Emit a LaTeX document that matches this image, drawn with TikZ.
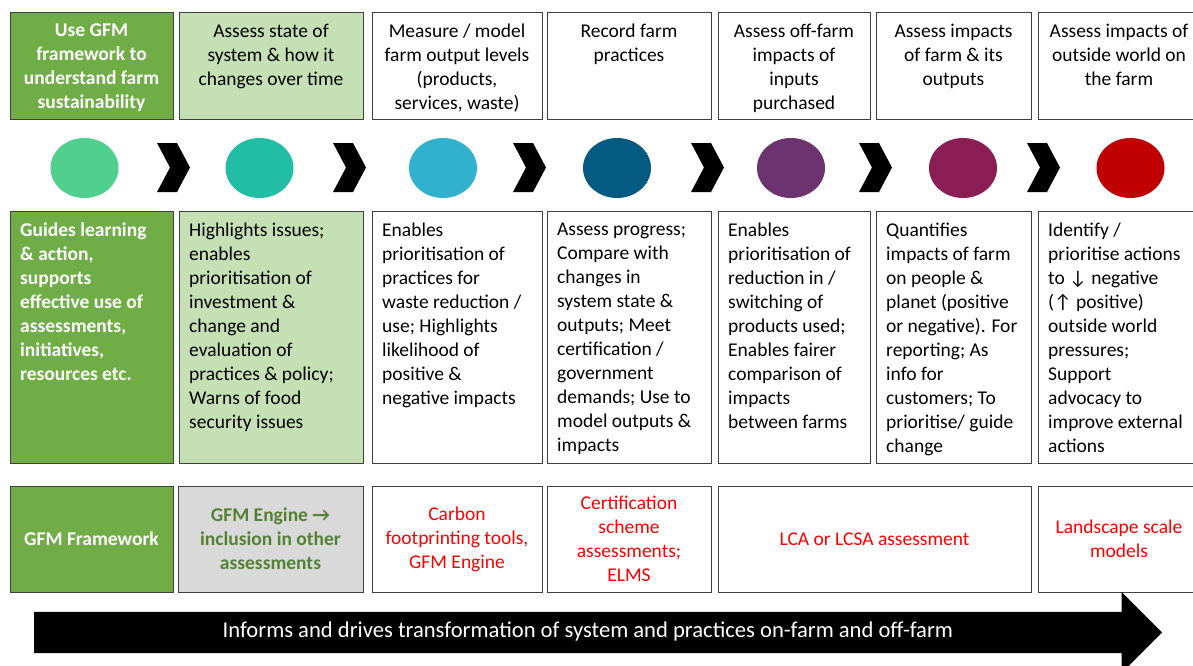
\documentclass[tikz,border=0pt]{standalone}
\usepackage{fontspec}
\setmainfont{Carlito}
\usepackage{tikz}
\usetikzlibrary{positioning}
\usetikzlibrary{shapes.geometric,shapes.arrows}
\definecolor{gfmdark}{HTML}{70AD47}
\definecolor{gfmlight}{HTML}{C5E0B4}
\definecolor{gfmgrey}{HTML}{D9D9D9}
\definecolor{gfmtext}{HTML}{548235}
\definecolor{edge}{HTML}{404040}
\definecolor{toolred}{HTML}{FF0000}
\definecolor{dotA}{HTML}{50D08D}
\definecolor{dotB}{HTML}{21BDA5}
\definecolor{dotC}{HTML}{30B2CE}
\definecolor{dotD}{HTML}{045A80}
\definecolor{dotE}{HTML}{6D3270}
\definecolor{dotF}{HTML}{8B1D55}
\definecolor{dotG}{HTML}{C00000}
\newcommand{\gfmsize}{\fontsize{19.5pt}{24pt}\selectfont}
\tikzstyle{box} = [draw=edge, line width=1pt, rectangle, inner sep=0pt]
\tikzstyle{toprow} = [box, minimum height=107pt]
\tikzstyle{midrow} = [box, minimum height=252pt]
\tikzstyle{botrow} = [box, minimum height=106pt, align=center]
\tikzstyle{head} = [anchor=north, align=center, inner sep=0pt, execute at begin node=\strut]
\tikzstyle{body} = [anchor=north west, align=left, inner sep=0pt, execute at begin node=\strut]
\tikzstyle{dot} = [ellipse, minimum width=68pt, minimum height=60pt, inner sep=0pt]
\begin{document}
\begin{tikzpicture}[x=1pt,y=-1pt,font=\gfmsize]
    \useasboundingbox (0,0) rectangle (1193,666);
    % top row: what each step does
    \node [toprow, fill=gfmdark, minimum width=163pt] (top1) at (91.5,66.5) {};
    \node [toprow, fill=gfmlight, minimum width=184pt] (top2) at (271,66.5) {};
    \node [toprow, minimum width=170pt] (top3) at (457,66.5) {};
    \node [toprow, minimum width=164pt] (top4) at (629,66.5) {};
    \node [toprow, minimum width=152pt] (top5) at (794,66.5) {};
    \node [toprow, minimum width=155pt] (top6) at (953.5,66.5) {};
    \node [toprow, minimum width=162pt] (top7) at (1119,66.5) {};
    \node [head, text=white, font=\gfmsize\bfseries] (top1txt) at ([yshift=-11pt]top1.north) {Use GFM\\framework to\\understand farm\\sustainability};
    \node [head] (top2txt) at ([yshift=-11pt]top2.north) {Assess state of\\system \& how it\\changes over time};
    \node [head] (top3txt) at ([yshift=-11pt]top3.north) {Measure / model\\farm output levels\\(products,\\services, waste)};
    \node [head] (top4txt) at ([yshift=-11pt]top4.north) {Record farm\\practices};
    \node [head] (top5txt) at ([yshift=-11pt]top5.north) {Assess off-farm\\impacts of\\inputs\\purchased};
    \node [head] (top6txt) at ([yshift=-11pt]top6.north) {Assess impacts\\of farm \& its\\outputs};
    \node [head] (top7txt) at ([yshift=-11pt]top7.north) {Assess impacts of\\outside world on\\the farm};

    % coloured dots and chevrons
    \node [dot, fill=dotA] (dot1) at (84.5,168) {};
    \node [dot, fill=dotB] (dot2) at (259.5,168) {};
    \node [dot, fill=dotC] (dot3) at (443,168) {};
    \node [dot, fill=dotD] (dot4) at (617,168) {};
    \node [dot, fill=dotE] (dot5) at (791,168) {};
    \node [dot, fill=dotF] (dot6) at (963,168) {};
    \node [dot, fill=dotG] (dot7) at (1130.5,168) {};
    \foreach \cx in {157,333,513,691,859,1027}
        \fill (\cx,143) -- ++(20,0) -- ++(13,24.5) -- ++(-13,24.5) -- ++(-20,0) -- ++(13,-24.5) -- cycle;

    % middle row: what it is used for
    \node [midrow, fill=gfmdark, minimum width=163pt] (mid1) at (91.5,337) {};
    \node [midrow, fill=gfmlight, minimum width=184pt] (mid2) at (271,337) {};
    \node [midrow, minimum width=170pt] (mid3) at (457,337) {};
    \node [midrow, minimum width=164pt] (mid4) at (629,337) {};
    \node [midrow, minimum width=152pt] (mid5) at (794,337) {};
    \node [midrow, minimum width=155pt] (mid6) at (953.5,337) {};
    \node [midrow, minimum width=162pt] (mid7) at (1119,337) {};
    \node [body, text=white, font=\gfmsize\bfseries] (mid1txt) at ([xshift=10.5pt,yshift=-12pt]mid1.north west) {Guides learning\\\& action,\\supports\\effective use of\\assessments,\\initiatives,\\resources etc.};
    \node [body] (mid2txt) at ([xshift=10.5pt,yshift=-12pt]mid2.north west) {Highlights issues;\\enables\\prioritisation of\\investment \&\\change and\\evaluation of\\practices \& policy;\\Warns of food\\security issues};
    \node [body] (mid3txt) at ([xshift=10.5pt,yshift=-12pt]mid3.north west) {Enables\\prioritisation of\\practices for\\waste reduction /\\use; Highlights\\likelihood of\\positive \&\\negative impacts};
    \node [body] (mid4txt) at ([xshift=10.5pt,yshift=-12pt]mid4.north west) {Assess progress;\\Compare with\\changes in\\system state \&\\outputs; Meet\\certification /\\government\\demands; Use to\\model outputs \&\\impacts};
    \node [body] (mid5txt) at ([xshift=10.5pt,yshift=-12pt]mid5.north west) {Enables\\prioritisation of\\reduction in /\\switching of\\products used;\\Enables fairer\\comparison of\\impacts\\between farms};
    \node [body] (mid6txt) at ([xshift=10.5pt,yshift=-12pt]mid6.north west) {Quantifies\\impacts of farm\\on people \&\\planet (positive\\or negative). For\\reporting; As\\info for\\customers; To\\prioritise/ guide\\change};
    \node [body] (mid7txt) at ([xshift=10.5pt,yshift=-12pt]mid7.north west) {Identify /\\prioritise actions\\to ↓ negative\\(↑ positive)\\outside world\\pressures;\\Support\\advocacy to\\improve external\\actions};

    % bottom row: tools
    \node [botrow, fill=gfmdark, text=white, font=\gfmsize\bfseries, minimum width=163pt] (tool1) at (91.5,539) {GFM Framework};
    \node [botrow, fill=gfmgrey, text=gfmtext, font=\gfmsize\bfseries, minimum width=185pt] (tool2) at (270.5,539) {GFM Engine →\\inclusion in other\\assessments};
    \node [botrow, text=toolred, minimum width=170pt] (tool3) at (457,539) {Carbon\\footprinting tools,\\GFM Engine};
    \node [botrow, text=toolred, minimum width=164pt] (tool4) at (629,539) {Certification\\scheme\\assessments;\\ELMS};
    \node [botrow, text=toolred, minimum width=313pt] (tool5) at (874.5,539) {LCA or LCSA assessment};
    \node [botrow, text=toolred, minimum width=162pt] (tool6) at (1119,539) {Landscape scale\\models};

    % big arrow
    \node [single arrow, fill=black, text=white, anchor=tail, minimum height=1128pt,
           font=\fontsize{22.6pt}{27pt}\selectfont,
           single arrow head extend=20pt, text height=15pt, text depth=5pt, inner ysep=10.5pt] (flow) at (34,632.5)
          {Informs and drives transformation of system and practices on-farm and off-farm};
\end{tikzpicture}
\end{document}
